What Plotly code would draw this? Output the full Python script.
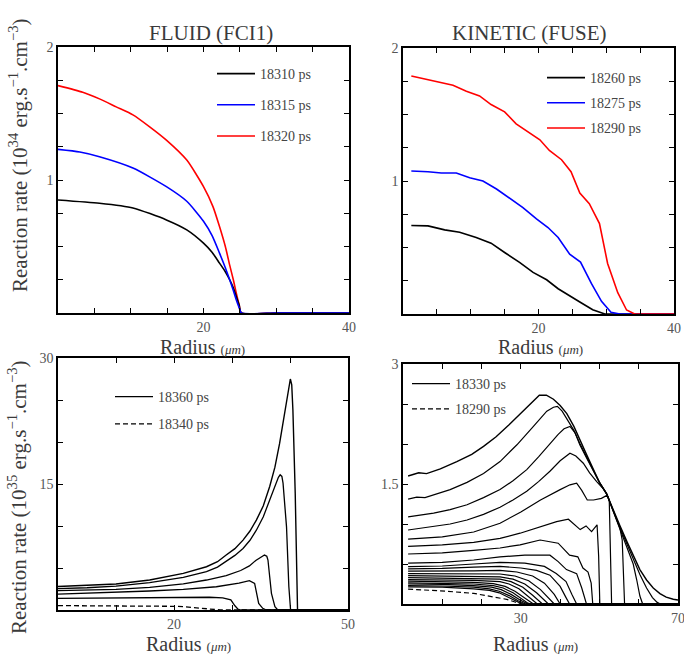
import plotly.graph_objects as go

# ---------------- DATA ----------------
# Top-left: FLUID (FCI1), reaction rate in 1e34 erg/s/cm3 vs radius (um)
TL_18310_R = [0, 5.7, 10.3, 14.9, 17.7, 20.0, 21.2, 22.2, 23.0, 23.6, 24.1, 24.5, 24.9, 25.2, 30, 35, 40]
TL_18310_V = [0.85, 0.825, 0.79, 0.70, 0.625, 0.525, 0.455, 0.375, 0.31, 0.25, 0.19, 0.125, 0.06, 0, 0, 0, 0]
TL_18315_R = [0, 3.0, 5.7, 10.3, 14.9, 17.7, 20.0, 21.2, 22.2, 23.0, 23.6, 24.1, 24.5, 24.9, 25.2, 30, 35, 40]
TL_18315_V = [1.23, 1.21, 1.175, 1.09, 0.95, 0.84, 0.69, 0.58, 0.45, 0.34, 0.25, 0.17, 0.1, 0.04, 0, 0, 0, 0]
TL_18320_R = [0, 3.4, 5.7, 8.0, 10.3, 12.6, 14.9, 17.7, 20.0, 21.3, 22.2, 23.0, 23.6, 24.1, 24.5, 24.9, 25.2, 30, 35, 40]
TL_18320_V = [1.71, 1.66, 1.61, 1.55, 1.49, 1.40, 1.30, 1.15, 0.95, 0.80, 0.65, 0.50, 0.36, 0.25, 0.15, 0.06, 0, 0, 0, 0]

# Top-right: KINETIC (FUSE)
TR_18260_R = [1.23, 3.69, 6.15, 8.36, 10.8, 13.0, 15.0, 17.2, 19.2, 21.2, 22.9, 24.6, 26.1, 28.0, 29.8, 35, 40]
TR_18260_V = [0.665, 0.6625, 0.6325, 0.615, 0.575, 0.5325, 0.4625, 0.3875, 0.3125, 0.2575, 0.19, 0.14, 0.09, 0.0325, 0, 0, 0]
TR_18275_R = [1.23, 3.69, 5.66, 7.87, 9.84, 11.8, 13.8, 15.7, 17.7, 19.7, 21.4, 22.9, 24.6, 26.2, 27.8, 29.3, 30.7, 32.0, 36, 40]
TR_18275_V = [1.075, 1.07, 1.06, 1.06, 1.025, 1.0, 0.94, 0.87, 0.80, 0.715, 0.65, 0.575, 0.45, 0.39, 0.23, 0.095, 0.0125, 0, 0, 0]
TR_18290_R = [1.23, 3.44, 5.41, 7.38, 9.35, 11.3, 13.0, 15.0, 16.7, 18.4, 20.2, 21.6, 23.4, 24.8, 26.1, 27.5, 29.0, 30.2, 31.7, 33.0, 34.2, 37, 40]
TR_18290_V = [1.79, 1.765, 1.74, 1.72, 1.675, 1.64, 1.575, 1.52, 1.43, 1.37, 1.31, 1.23, 1.16, 1.07, 0.91, 0.83, 0.68, 0.38, 0.16, 0.03, 0, 0, 0]

# Bottom-left: FLUID later times, 1e35 erg/s/cm3
BL_18360_R = [0, 5, 10, 15.8, 21.6, 25.6, 27.5, 29.0, 30.5, 31.9, 33.1, 34.2, 35.4, 36.5, 37.4, 38.2, 38.9, 39.4, 39.8, 40.06, 40.3, 40.5, 40.9, 41.3, 50]
BL_18360_V = [2.8, 2.92, 3.1, 3.57, 4.36, 5.15, 5.75, 6.54, 7.3, 8.32, 9.4, 10.7, 12.4, 14.7, 17.0, 19.8, 22.6, 24.6, 26.4, 27.5, 26.8, 23.8, 13.9, 0, 0]
BL_P2_R = [0, 5, 10, 15.8, 21.6, 25.6, 27.5, 29.0, 30.5, 31.9, 33.1, 34.2, 35.4, 36.5, 37.1, 37.6, 38.0, 38.3, 38.6, 38.8, 39.4, 39.8, 40.1, 50]
BL_P2_V = [2.54, 2.65, 2.85, 3.25, 3.88, 4.56, 5.1, 5.75, 6.5, 7.33, 8.3, 9.5, 11.1, 13.1, 14.2, 15.1, 15.8, 16.1, 15.9, 15.1, 9.9, 2.8, 0, 0]
BL_P3_R = [0, 5, 10, 15.8, 21.6, 25.6, 29.0, 31.5, 33.0, 34.1, 35.0, 35.6, 36.0, 36.2, 36.5, 36.8, 37.4, 37.9, 50]
BL_P3_V = [2.30, 2.38, 2.46, 2.7, 3.1, 3.57, 4.1, 4.7, 5.25, 5.9, 6.35, 6.54, 6.4, 5.95, 3.96, 1.98, 0.4, 0, 0]
BL_P4_R = [0, 5, 10, 15.8, 21.6, 27.3, 31.2, 33.0, 33.9, 34.2, 34.6, 35.3, 35.9, 50]
BL_P4_V = [1.90, 2.0, 2.1, 2.26, 2.46, 2.77, 3.2, 3.49, 3.17, 1.98, 0.79, 0.2, 0, 0]
BL_P5_R = [0, 10, 21.6, 26.1, 28.4, 29.8, 30.5, 31.0, 31.5, 50]
BL_P5_V = [1.38, 1.43, 1.55, 1.52, 1.45, 1.2, 0.5, 0.12, 0, 0]
BL_18340_R = [0, 10, 15, 18, 20, 22, 24, 25.5, 27, 28, 50]
BL_18340_V = [0.52, 0.52, 0.5, 0.48, 0.44, 0.38, 0.25, 0.12, 0.02, 0, 0]

# Bottom-right: KINETIC later times (profiles from 18330 ps down to 18290 ps)
BR_18330_R = [1.3, 4, 6, 9.5, 13.7, 17.5, 20.5, 23.7, 27, 30.5, 32.6, 34.7, 36.5, 38.3, 40, 41.7, 43.5, 45, 46.7, 48.4, 50, 51.8, 53.5, 55.2, 57, 58.6, 60.3, 62, 63.7, 65.4, 67, 68.8, 70]
BR_18330_V = [1.60, 1.64, 1.63, 1.69, 1.78, 1.87, 1.97, 2.09, 2.24, 2.41, 2.52, 2.61, 2.61, 2.56, 2.48, 2.38, 2.22, 2.05, 1.87, 1.69, 1.52, 1.38, 1.17, 0.98, 0.78, 0.6, 0.43, 0.30, 0.2, 0.13, 0.085, 0.06, 0.05]
BR_18328_R = [1.3, 3.5, 5.6, 7.7, 12, 16.3, 20.5, 24.7, 29, 33.2, 36.6, 38.3, 39.3, 40.5, 41.7, 43.5, 45, 46.7, 48.4, 50, 51.8, 53.5, 55.2, 57, 58.6, 60.3, 62, 63.5, 64.7, 65.5, 70]
BR_18328_V = [1.31, 1.335, 1.33, 1.36, 1.43, 1.52, 1.63, 1.78, 1.99, 2.22, 2.41, 2.46, 2.47, 2.41, 2.32, 2.17, 2.01, 1.85, 1.68, 1.52, 1.38, 1.16, 0.96, 0.75, 0.56, 0.37, 0.2, 0.08, 0.02, 0, 0]
BR_18326_R = [1.3, 7.8, 12, 16.3, 20.5, 24.7, 28, 31.5, 34.5, 37.4, 39.5, 41, 42.5, 43.8, 45, 46.7, 48.4, 50, 51.8, 53.5, 55.2, 57, 58.6, 59.5, 60.3, 61, 70]
BR_18326_V = [1.09, 1.135, 1.18, 1.24, 1.33, 1.43, 1.54, 1.68, 1.84, 2.01, 2.12, 2.19, 2.22, 2.14, 1.99, 1.83, 1.67, 1.52, 1.38, 1.16, 0.95, 0.73, 0.5, 0.3, 0.1, 0, 0]
BR_18324_R = [1.3, 7.8, 12, 16.3, 20.5, 24.7, 28, 31.5, 34.5, 37.4, 40, 42.5, 44, 45.9, 47.5, 49.3, 51, 51.8, 53.5, 55.2, 55.8, 56.1, 56.4, 70]
BR_18324_V = [0.925, 0.97, 1.0, 1.05, 1.12, 1.21, 1.3, 1.41, 1.53, 1.66, 1.79, 1.885, 1.85, 1.76, 1.64, 1.53, 1.44, 1.38, 1.16, 0.95, 0.8, 0.3, 0, 0]
BR_18322_R = [1.3, 10, 18, 24.7, 30, 35, 40, 42.5, 44.2, 45.5, 46.9, 48.5, 50.5, 52.0, 52.5, 52.8, 53.1, 70]
BR_18322_V = [0.81, 0.84, 0.9, 1.01, 1.15, 1.3, 1.43, 1.49, 1.51, 1.42, 1.30, 1.30, 1.32, 1.36, 1.3, 0.6, 0, 0]
BR_18320_R = [1.3, 10, 18, 24.7, 29.8, 34.9, 39.1, 42.1, 43.8, 45.1, 46.6, 48.0, 49.4, 49.8, 50.1, 70]
BR_18320_V = [0.72, 0.74, 0.77, 0.82, 0.885, 0.96, 1.03, 1.06, 0.99, 0.93, 0.976, 0.905, 0.99, 0.6, 0, 0]
BR_18318_R = [1.3, 10, 18, 24.7, 29.8, 34.9, 39.5, 41, 42.4, 44.5, 45.8, 47.1, 47.9, 48.3, 70]
BR_18318_V = [0.625, 0.64, 0.67, 0.70, 0.74, 0.80, 0.76, 0.68, 0.61, 0.59, 0.45, 0.40, 0.26, 0, 0]
BR_18316_R = [1.3, 10, 18, 24.7, 31, 37.4, 39.5, 41.6, 44.2, 45.5, 46.7, 70]
BR_18316_V = [0.51, 0.52, 0.55, 0.59, 0.61, 0.61, 0.53, 0.43, 0.38, 0.2, 0, 0]
BR_18314_R = [1.3, 10, 18, 24.7, 31, 36, 39, 41.5, 43, 44.2, 70]
BR_18314_V = [0.467, 0.475, 0.5, 0.52, 0.51, 0.47, 0.38, 0.28, 0.12, 0, 0]
BR_18312_R = [1.3, 10, 18, 24.7, 30, 34, 37.4, 40, 41.5, 42.4, 70]
BR_18312_V = [0.44, 0.445, 0.46, 0.47, 0.45, 0.42, 0.36, 0.22, 0.08, 0, 0]
BR_18310_R = [1.3, 10, 18, 24.7, 29, 33, 36, 38.5, 40, 70]
BR_18310_V = [0.41, 0.41, 0.415, 0.42, 0.40, 0.35, 0.26, 0.12, 0, 0]
BR_18308_R = [1.3, 10, 18, 24.7, 28.5, 32, 35, 37.3, 38.5, 70]
BR_18308_V = [0.38, 0.38, 0.38, 0.375, 0.35, 0.29, 0.18, 0.06, 0, 0]
BR_18306_R = [1.3, 10, 18, 24.7, 28, 31, 34, 36, 37, 70]
BR_18306_V = [0.355, 0.35, 0.35, 0.34, 0.31, 0.25, 0.14, 0.04, 0, 0]
BR_18304_R = [1.3, 10, 18, 24.7, 27.5, 30.5, 33, 34.8, 35.5, 70]
BR_18304_V = [0.33, 0.325, 0.32, 0.31, 0.28, 0.21, 0.11, 0.03, 0, 0]
BR_18302_R = [1.3, 10, 18, 24.7, 27, 29.5, 32, 33.5, 34.2, 70]
BR_18302_V = [0.305, 0.30, 0.295, 0.28, 0.25, 0.19, 0.09, 0.02, 0, 0]
BR_18300_R = [1.3, 10, 18, 23, 26, 28.5, 31, 32.5, 33.2, 70]
BR_18300_V = [0.285, 0.28, 0.27, 0.255, 0.22, 0.16, 0.07, 0.015, 0, 0]
BR_18298_R = [1.3, 10, 18, 23, 25.5, 28, 30.3, 31.8, 32.5, 70]
BR_18298_V = [0.265, 0.26, 0.25, 0.23, 0.20, 0.14, 0.06, 0.01, 0, 0]
BR_18296_R = [1.3, 10, 18, 22.5, 25, 27.5, 29.8, 31.2, 31.8, 70]
BR_18296_V = [0.25, 0.245, 0.23, 0.21, 0.18, 0.12, 0.05, 0.01, 0, 0]
BR_18294_R = [1.3, 10, 18, 22, 24.5, 27, 29.3, 30.6, 31.2, 70]
BR_18294_V = [0.23, 0.225, 0.21, 0.19, 0.16, 0.105, 0.04, 0.008, 0, 0]
BR_18292_R = [1.3, 10, 18, 22, 24.5, 26.5, 28.8, 30.1, 30.7, 70]
BR_18292_V = [0.215, 0.21, 0.19, 0.17, 0.14, 0.09, 0.035, 0.005, 0, 0]
BR_18290_R = [1.3, 9.5, 18, 22.2, 26.4, 28.5, 29.8, 70]
BR_18290_V = [0.185, 0.165, 0.133, 0.10, 0.058, 0.025, 0, 0]

# Tick values / labels (labelled major ticks + unlabelled minor ticks)
T_XMAJOR = [20, 40]
T_XMINOR = [5, 10, 15, 25, 30, 35]
T_YMAJOR = [1, 2]
T_YMINOR = [0.25, 0.5, 0.75, 1.25, 1.5, 1.75]
BL_XMAJOR = [20, 50]
BL_XMINOR = [10, 30, 40]
BL_YMAJOR = [15, 30]
BL_YMINOR = [5, 10, 20, 25]
BR_XMAJOR = [30, 70]
BR_XMINOR = [10, 20, 40, 50, 60]
BR_YMAJOR = [1.5, 3]
BR_YMINOR = [0.5, 1, 2, 2.5]

TITLES = ["FLUID (FCI1)", "KINETIC (FUSE)"]

# ---------------- FIGURE ----------------
FONT = "Liberation Serif"
W, H = 684, 655

def px_x(x):
    return x / W

def px_y(y):
    return 1 - y / H

fig = go.Figure()

def add(xs, ys, ax, color="black", width=1.5, dash="solid", name=None, legend=None, group=None,
        shape="linear", rank=1000):
    line = dict(color=color, width=width, dash=dash, shape=shape)
    if shape == "spline":
        line["smoothing"] = 0.6
    fig.add_trace(go.Scatter(
        x=xs, y=ys, mode="lines", xaxis="x" + ax, yaxis="y" + ax,
        line=line,
        name=name if name else "", showlegend=name is not None,
        legend=legend if legend else "legend", legendgroup=group, legendrank=rank,
        hoverinfo="skip"))

# top-left (red drawn first, blue on top)
add(TL_18320_R, TL_18320_V, "", "#ff0000", 1.6, name="18320 ps", legend="legend", group="c", shape="spline", rank=3)
add(TL_18310_R, TL_18310_V, "", "black", 1.6, name="18310 ps", legend="legend", group="a", shape="spline", rank=1)
add(TL_18315_R, TL_18315_V, "", "#0000ff", 1.6, name="18315 ps", legend="legend", group="b", shape="spline", rank=2)
# top-right
add(TR_18260_R, TR_18260_V, "2", "black", 1.6, name="18260 ps", legend="legend2", group="d", rank=1)
add(TR_18275_R, TR_18275_V, "2", "#0000ff", 1.6, name="18275 ps", legend="legend2", group="e", rank=2)
add(TR_18290_R, TR_18290_V, "2", "#ff0000", 1.6, name="18290 ps", legend="legend2", group="f", rank=3)
# bottom-left
add(BL_18360_R, BL_18360_V, "3", name="18360 ps", legend="legend3", group="g", width=1.4, rank=1)
for rr, vv in [(BL_P2_R, BL_P2_V), (BL_P3_R, BL_P3_V), (BL_P4_R, BL_P4_V), (BL_P5_R, BL_P5_V)]:
    add(rr, vv, "3", width=1.3)
add(BL_18340_R, BL_18340_V, "3", dash="5px,3px", name="18340 ps", legend="legend3", group="h", width=1.3, rank=2)
# bottom-right
add(BR_18330_R, BR_18330_V, "4", name="18330 ps", legend="legend4", group="i", width=1.4, rank=1)
for rr, vv in [(BR_18328_R, BR_18328_V), (BR_18326_R, BR_18326_V), (BR_18324_R, BR_18324_V),
               (BR_18322_R, BR_18322_V), (BR_18320_R, BR_18320_V), (BR_18318_R, BR_18318_V),
               (BR_18316_R, BR_18316_V), (BR_18314_R, BR_18314_V), (BR_18312_R, BR_18312_V),
               (BR_18310_R, BR_18310_V), (BR_18308_R, BR_18308_V), (BR_18306_R, BR_18306_V),
               (BR_18304_R, BR_18304_V), (BR_18302_R, BR_18302_V), (BR_18300_R, BR_18300_V),
               (BR_18298_R, BR_18298_V), (BR_18296_R, BR_18296_V), (BR_18294_R, BR_18294_V),
               (BR_18292_R, BR_18292_V)]:
    add(rr, vv, "4", width=1.2)
add(BR_18290_R, BR_18290_V, "4", dash="5px,3px", name="18290 ps", legend="legend4", group="j", width=1.2, rank=2)

def axis(domain, rng, major, minor, anchor):
    return dict(domain=domain, range=rng, tickmode="array", tickvals=major,
                ticktext=[("%g" % v) for v in major],
                ticks="inside", ticklen=5, tickwidth=1, tickcolor="black",
                minor=dict(tickmode="array", tickvals=minor, ticks="inside", ticklen=5,
                           tickwidth=1, tickcolor="black", showgrid=False),
                showline=True, linecolor="black", linewidth=1.6, mirror="ticks",
                showgrid=False, zeroline=False, anchor=anchor, ticklabeloverflow="allow",
                tickfont=dict(family=FONT, size=14, color="#555555"))

fig.update_layout(
    width=W, height=H, margin=dict(l=0, r=0, t=0, b=0, autoexpand=False),
    paper_bgcolor="white", plot_bgcolor="white",
    font=dict(family=FONT, color="#444444"),
    xaxis=axis([px_x(58), px_x(349)], [0, 40], T_XMAJOR, T_XMINOR, "y"),
    yaxis=axis([px_y(313), px_y(47)], [0, 2], T_YMAJOR, T_YMINOR, "x"),
    xaxis2=axis([px_x(403), px_x(674)], [0, 40], T_XMAJOR, T_XMINOR, "y2"),
    yaxis2=axis([px_y(314), px_y(48)], [0, 2], T_YMAJOR, T_YMINOR, "x2"),
    xaxis3=axis([px_x(58), px_x(348)], [0, 50], BL_XMAJOR, BL_XMINOR, "y3"),
    yaxis3=axis([px_y(610), px_y(358)], [0, 30], BL_YMAJOR, BL_YMINOR, "x3"),
    xaxis4=axis([px_x(403), px_x(678)], [0, 70], BR_XMAJOR, BR_XMINOR, "y4"),
    yaxis4=axis([px_y(604), px_y(364)], [0, 3], BR_YMAJOR, BR_YMINOR, "x4"),
)

def leg(x, y, gap):
    return dict(x=px_x(x), y=px_y(y), xanchor="left", yanchor="top", bgcolor="rgba(0,0,0,0)",
                borderwidth=0, tracegroupgap=gap, itemwidth=38,
                font=dict(family=FONT, size=14, color="#444444"))

fig.update_layout(legend=leg(212, 58, 10), legend2=leg(542, 62, 4),
                  legend3=leg(110, 381, 6), legend4=leg(407, 368, 4))

ann = []
ann.append(dict(text=TITLES[0], x=px_x(211), y=px_y(33)))
ann.append(dict(text=TITLES[1], x=px_x(529), y=px_y(33)))
for a in ann:
    a.update(font=dict(family=FONT, size=21, color="#3a3a3a"))
for cx, cy in [(202, 347), (540, 347), (188, 644), (535, 644)]:
    ann.append(dict(text="Radius <span style='font-size:13px'>(<i>μm</i>)</span>", x=px_x(cx), y=px_y(cy),
                    font=dict(family=FONT, size=20, color="#3a3a3a")))
ann.append(dict(text="Reaction rate (10<sup>34</sup> erg.s<sup>−1</sup>.cm<sup>−3</sup>)",
                x=px_x(18), y=px_y(155), textangle=-90, font=dict(family=FONT, size=21, color="#3a3a3a")))
ann.append(dict(text="Reaction rate (10<sup>35</sup> erg.s<sup>−1</sup>.cm<sup>−3</sup>)",
                x=px_x(18), y=px_y(497), textangle=-90, font=dict(family=FONT, size=21, color="#3a3a3a")))
for a in ann:
    a.update(xref="paper", yref="paper", showarrow=False, xanchor="center", yanchor="middle")
fig.update_layout(annotations=ann)

fig.write_html("out.html", config={"displayModeBar": False},
               post_script="document.body.style.margin='0px';")
